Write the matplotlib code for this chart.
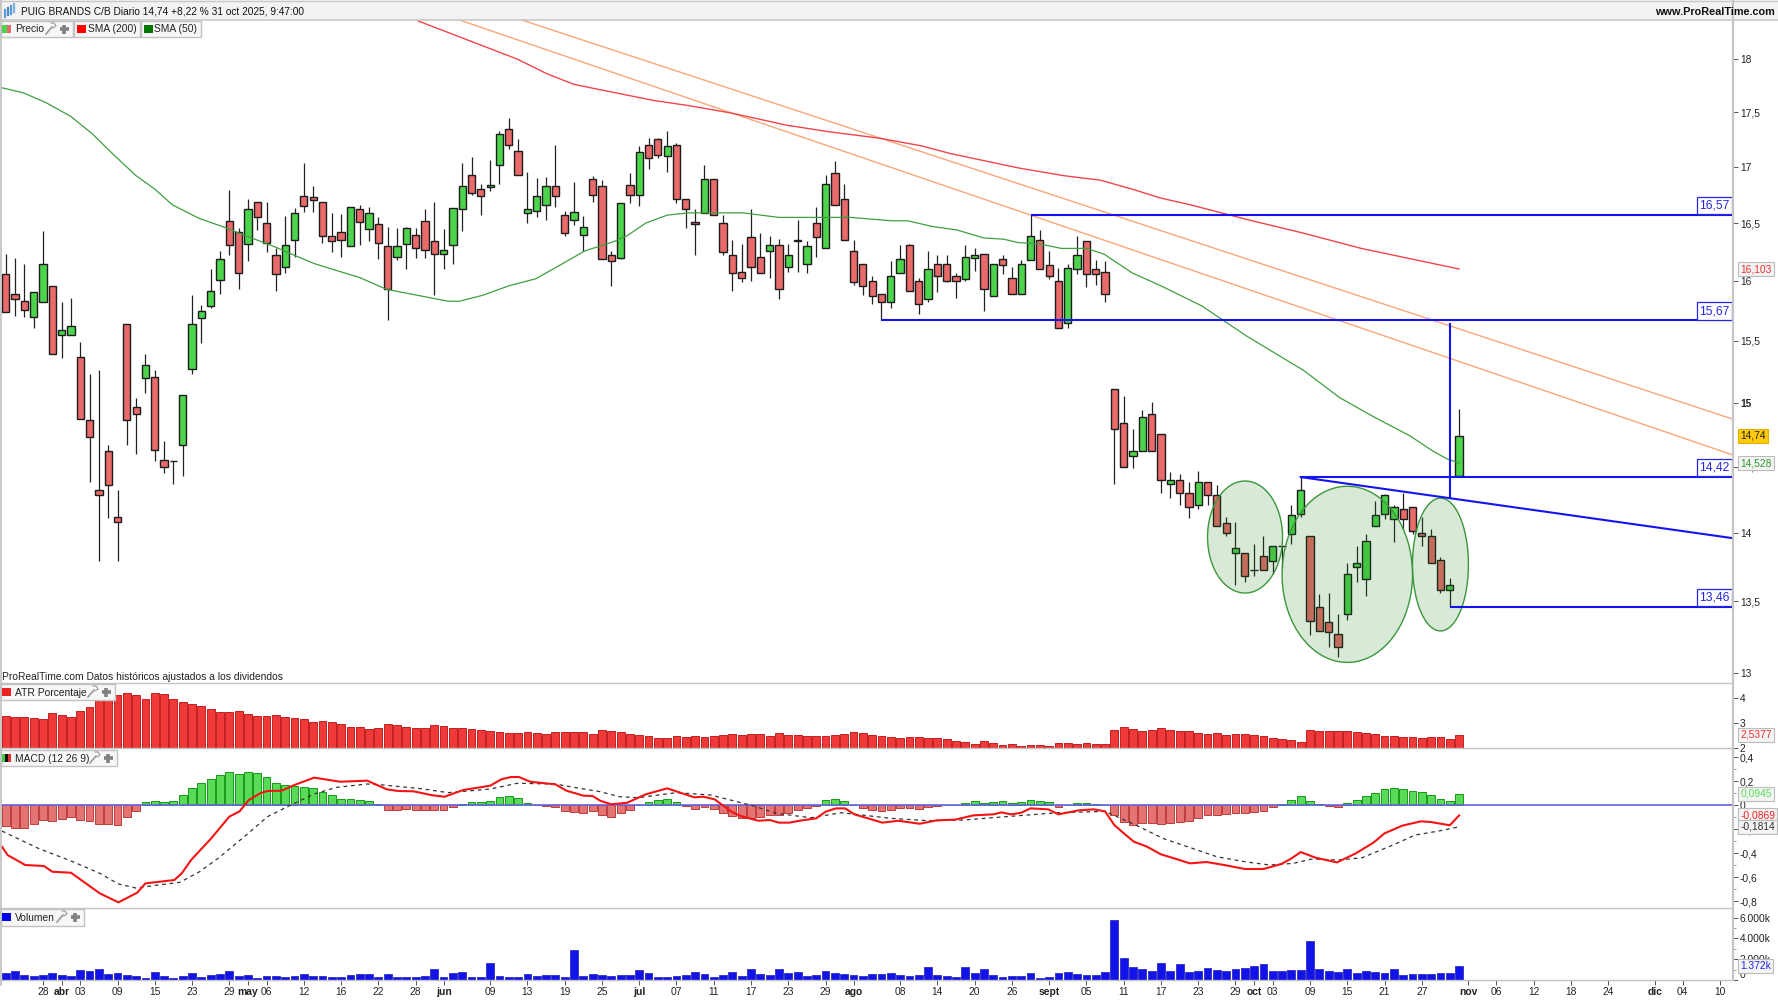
import numpy as np
import matplotlib
matplotlib.use("Agg")
import matplotlib.pyplot as plt
from matplotlib.patches import Rectangle

plt.rcParams['font.family'] = ['Liberation Sans', 'DejaVu Sans']

# daily candles, bar number = position in the list
opens = [16.06,15.89,15.83,15.70,15.82,15.96,15.55,15.55,15.37,14.86,
14.32,14.62,14.12,15.64,14.97,15.20,15.21,14.55,14.54,14.67,
15.27,15.69,15.79,16.01,16.52,16.42,16.32,16.69,16.50,16.22,
16.12,16.35,16.74,16.73,16.69,16.39,16.42,16.30,16.62,16.45,
16.49,16.30,16.21,16.32,16.40,16.52,16.34,16.23,16.31,16.62,
16.93,16.80,16.82,17.02,17.34,17.14,16.59,16.61,16.66,16.83,
16.57,16.53,16.40,16.89,16.83,16.22,16.20,16.84,16.75,17.20,
17.25,17.10,17.20,16.71,16.51,16.59,16.89,16.50,16.22,16.08,
16.38,16.21,16.26,16.31,16.12,16.35,16.15,16.50,16.28,16.94,
16.71,16.26,16.15,16.00,15.89,15.82,16.07,16.31,16.00,15.85,
16.15,16.15,16.04,16.02,16.20,16.23,15.87,16.19,16.03,15.89,
16.18,16.35,16.14,16.00,15.65,16.10,16.34,16.10,16.08,15.11,
14.84,14.58,14.62,14.91,14.75,14.37,14.40,14.30,14.21,14.38,
14.28,14.07,13.85,13.85,13.73,13.83,13.79,13.90,13.99,14.14,
13.98,13.46,13.35,13.27,13.41,13.75,13.66,14.05,14.14,14.10,
14.18,14.19,14.00,13.98,13.80,13.58,14.43]
highs = [16.23,16.20,16.15,15.91,16.43,15.96,15.82,15.86,15.49,15.23,
15.26,14.67,14.32,15.64,15.04,15.39,15.26,14.70,14.54,15.06,
15.88,15.80,16.10,16.26,16.79,16.46,16.71,16.69,16.69,16.28,
16.56,16.63,17.03,16.83,16.69,16.59,16.58,16.64,16.66,16.64,
16.55,16.47,16.46,16.47,16.46,16.62,16.69,16.45,16.63,17.03,
17.09,16.85,17.06,17.33,17.45,17.25,16.95,16.90,16.91,17.20,
16.61,16.86,16.56,16.92,16.88,16.26,16.68,16.94,17.19,17.26,
17.26,17.33,17.22,16.71,16.62,17.02,16.89,16.57,16.35,16.32,
16.62,16.41,16.39,16.36,16.32,16.53,16.34,16.64,16.93,17.05,
16.85,16.35,16.15,16.04,15.89,16.17,16.31,16.32,16.03,16.26,
16.22,16.22,16.07,16.31,16.28,16.23,16.15,16.22,16.12,16.18,
16.57,16.44,16.26,16.11,16.15,16.39,16.34,16.18,16.17,15.11,
15.05,14.79,14.94,15.01,14.75,14.46,14.44,14.38,14.47,14.38,
14.36,14.12,14.08,13.85,13.92,13.98,13.90,13.90,14.21,14.42,
13.98,13.55,13.56,13.41,13.78,13.90,13.99,14.24,14.29,14.21,
14.30,14.19,14.12,14.03,13.82,13.67,14.95]
lows = [15.74,15.71,15.70,15.61,15.82,15.39,15.36,15.55,14.87,14.38,
13.79,14.11,13.79,14.67,14.60,15.08,14.54,14.45,14.37,14.43,
15.23,15.48,15.77,15.89,16.22,15.93,16.17,16.44,16.25,15.92,
16.07,16.21,16.60,16.60,16.33,16.25,16.21,16.30,16.31,16.34,
16.19,15.67,16.18,16.10,16.20,16.20,15.88,16.10,16.15,16.43,
16.75,16.57,16.78,16.85,17.16,16.93,16.50,16.55,16.53,16.64,
16.39,16.48,16.26,16.69,16.19,15.96,16.19,16.68,16.65,16.98,
17.08,16.95,16.68,16.46,16.22,16.59,16.57,16.22,15.92,15.99,
16.00,16.07,16.03,15.85,16.08,16.08,16.07,16.21,16.28,16.66,
16.35,15.97,15.88,15.81,15.67,15.77,16.07,15.92,15.72,15.82,
15.91,15.99,15.86,16.00,16.09,15.75,15.87,16.06,15.89,15.89,
16.18,16.10,16.02,15.61,15.61,16.06,15.95,15.97,15.82,14.37,
14.50,14.49,14.62,14.62,14.30,14.26,14.21,14.11,14.18,14.21,
14.05,13.98,13.62,13.64,13.68,13.73,13.70,13.74,13.92,14.12,
13.26,13.29,13.18,13.11,13.37,13.64,13.54,14.05,14.10,13.93,
14.03,13.99,13.90,13.78,13.56,13.46,14.42]
closes = [15.74,15.85,15.76,15.91,16.15,15.39,15.59,15.62,14.87,14.73,
14.28,14.36,14.08,14.86,14.91,15.30,14.63,14.50,14.54,15.06,
15.64,15.75,15.92,16.19,16.31,16.07,16.62,16.55,16.33,16.06,
16.31,16.59,16.65,16.70,16.39,16.34,16.35,16.64,16.51,16.59,
16.33,15.93,16.30,16.46,16.28,16.27,16.23,16.27,16.63,16.83,
16.77,16.74,16.84,17.30,17.20,16.93,16.62,16.74,16.83,16.74,
16.41,16.60,16.47,16.75,16.19,16.17,16.68,16.75,17.13,17.08,
17.11,17.19,16.71,16.62,16.49,16.89,16.57,16.25,16.07,16.03,
16.12,16.07,16.31,15.93,16.22,16.34,16.30,16.38,16.85,16.66,
16.35,15.99,15.96,15.87,15.82,16.04,16.19,15.92,15.81,16.10,
16.04,16.00,16.00,16.21,16.22,15.93,16.15,16.14,15.89,16.15,
16.39,16.10,16.04,15.61,16.11,16.22,16.06,16.06,15.89,14.79,
14.50,14.62,14.89,14.62,14.40,14.40,14.30,14.19,14.38,14.28,
14.05,14.00,13.89,13.68,13.73,13.73,13.90,13.90,14.13,14.32,
13.36,13.29,13.28,13.18,13.70,13.78,13.94,14.13,14.28,14.19,
14.10,14.01,13.98,13.78,13.58,13.62,14.74]

# moving averages, read at some bars only
sma50_x = [-0.5,1.9,4.3,7,9.3,11.7,14,16,17.9,20.8,23.6,26.1,29,31,33.1,35.1,38,40.9,44.2,47.5,48.7,51.2,54,56.9,59.8,62.2,
63.8,65.3,66.7,68.7,71,73.3,76.5,79.1,83,86.8,90.6,95.2,96.8,99.5,102.1,105,107.1,108.7,110.9,113.3,116,117.9,120.9,124,
128.4,133.2,139.3,143.2,146.8,150.7,153.2,154.7,156]
sma50_y = [17.73,17.68,17.59,17.46,17.30,17.10,16.92,16.80,16.66,16.54,16.46,16.38,16.29,16.22,16.15,16.10,16.03,15.93,15.88,15.83,15.83,15.88,15.96,16.02,16.15,16.26,
16.30,16.34,16.39,16.50,16.57,16.59,16.59,16.59,16.55,16.55,16.55,16.52,16.52,16.47,16.44,16.37,16.36,16.33,16.32,16.28,16.28,16.23,16.07,15.96,
15.79,15.54,15.26,15.04,14.89,14.74,14.62,14.56,14.528]
sma200_x = [44.2,54.9,58.1,61,63.8,69.5,73.4,78,83.8,88.3,93.8,98.3,101.4,108.7,113.6,117.5,120.9,124,127.2,133.3,139.4,145.5,156]
sma200_y = [18.37,18.00,17.86,17.76,17.71,17.61,17.56,17.49,17.38,17.32,17.26,17.19,17.12,16.99,16.92,16.88,16.80,16.72,16.66,16.53,16.41,16.28,16.103]

atr = [3.29,3.25,3.25,3.19,3.15,3.40,3.33,3.25,3.48,3.63,
3.93,4.00,4.11,4.21,4.11,3.96,4.21,4.15,3.96,3.84,
3.76,3.67,3.55,3.44,3.44,3.48,3.36,3.29,3.29,3.32,
3.25,3.19,3.15,3.04,3.08,3.04,2.96,2.85,2.85,2.77,
2.81,2.96,2.92,2.85,2.81,2.81,2.92,2.88,2.81,2.81,
2.77,2.73,2.67,2.63,2.60,2.60,2.64,2.60,2.56,2.64,
2.64,2.64,2.64,2.56,2.73,2.67,2.63,2.56,2.52,2.48,
2.40,2.40,2.48,2.44,2.48,2.44,2.48,2.52,2.56,2.52,
2.56,2.56,2.48,2.60,2.52,2.52,2.48,2.48,2.48,2.52,
2.56,2.63,2.60,2.52,2.48,2.44,2.40,2.44,2.44,2.40,
2.40,2.36,2.29,2.25,2.19,2.29,2.21,2.15,2.19,2.11,
2.12,2.15,2.11,2.21,2.21,2.17,2.21,2.17,2.17,2.73,
2.84,2.77,2.69,2.73,2.81,2.73,2.69,2.67,2.60,2.56,
2.60,2.52,2.56,2.56,2.52,2.48,2.40,2.36,2.33,2.25,
2.71,2.67,2.67,2.67,2.67,2.63,2.60,2.56,2.48,2.48,
2.44,2.44,2.40,2.44,2.44,2.36,2.5377]

macd_hist = [-.172,-.189,-.189,-.161,-.125,-.133,-.117,-.097,-.125,-.133,
-.161,-.156,-.164,-.103,-.047,.022,.031,.022,.031,.081,
.139,.186,.217,.247,.272,.256,.272,.264,.231,.186,
.164,.156,.147,.139,.108,.081,.047,.047,.039,.031,
.008,-.042,-.042,-.033,-.042,-.042,-.042,-.042,-.019,.006,
.022,.022,.031,.064,.072,.056,.017,0,-.011,-.019,
-.047,-.056,-.064,-.047,-.081,-.097,-.064,-.039,0,.022,
.039,.047,.022,-.011,-.033,-.019,-.031,-.064,-.089,-.106,
-.106,-.097,-.081,-.081,-.064,-.042,-.025,-.011,.039,.047,
.031,0,-.025,-.042,-.05,-.042,-.025,-.025,-.033,-.017,
-.008,0,0,.017,.031,.017,.022,.031,.017,.022,
.039,.031,.022,-.017,0,.017,.017,.008,0,-.081,
-.139,-.164,-.147,-.147,-.156,-.147,-.139,-.131,-.106,-.081,
-.081,-.072,-.064,-.064,-.056,-.047,-.019,.008,.039,.072,
.031,.008,-.008,-.019,.017,.039,.072,.1,.133,.139,
.133,.117,.108,.081,.047,.031,.0945]

macd_x = [-0.4,0.2,2.1,4.1,5,7,9,10.1,12.1,14.1,15,18.1,18.9,19.9,22,24,25.1,26.1,27.3,28.1,29.6,31,33.1,35.9,38.8,40.9,42.1,43.8,45.8,47.1,
49.1,52,53.2,54.2,55.1,56.3,59,60.2,62,63,63.8,65,66.7,68.7,71,73.9,74.9,76.1,77.9,78.9,80.8,82,83,84.1,85.2,87,88,89.1,90.1,91.1,
92.9,94.1,95.8,98.1,99.9,101.9,103.9,106,106.9,107.9,109,110,111.9,113,115.2,116.8,118,119,120.1,121.1,122.5,124,125.4,127.1,128.9,
130.8,133,135,136.9,137.9,139,140.6,142.9,144.9,146.8,148,149.9,151.9,153,155,156]
macd_y = [-.347,-.417,-.5,-.508,-.556,-.564,-.675,-.736,-.811,-.731,-.653,-.625,-.569,-.458,-.283,-.097,-.053,.042,.097,.117,.119,.167,.228,.194,.203,.131,.117,.114,.081,.069,
.125,.161,.214,.233,.233,.194,.172,.119,.078,.075,.036,.006,.019,.089,.139,.064,.069,.047,-.056,-.092,-.131,-.125,-.147,-.147,-.131,-.111,-.056,-.028,-.028,-.078,
-.119,-.147,-.131,-.156,-.128,-.122,-.086,-.078,-.061,-.078,-.064,-.028,-.036,-.078,-.044,-.036,-.053,-.167,-.242,-.306,-.347,-.411,-.444,-.486,-.475,
-.5,-.533,-.533,-.492,-.45,-.392,-.439,-.478,-.403,-.314,-.236,-.172,-.136,-.142,-.169,-.0869]
signal_x = [-0.4,3.5,7.2,10.1,12.1,14,15.8,18.7,20.8,22.8,25.7,28.1,30.6,33.1,35.5,38.8,40.5,44.6,47.5,52,54.9,59,61,63.8,65.9,67.9,72,75.7,80.2,82.7,86.4,89.7,
95,99.1,102.8,108.2,113,118,121.3,124.2,128.2,130,133.2,135.7,138.2,140.2,143.1,145.6,148.9,151.3,153.8,156]
signal_y = [-.217,-.361,-.472,-.569,-.658,-.692,-.672,-.644,-.556,-.444,-.258,-.097,0,.092,.147,.175,.167,.136,.103,.133,.181,.175,.147,.111,.069,.061,.103,.083,-.006,-.069,-.106,-.064,
-.111,-.131,-.125,-.092,-.064,-.053,-.167,-.278,-.383,-.431,-.475,-.5,-.486,-.45,-.458,-.439,-.333,-.25,-.217,-.1814]

volume = [677,839,484,387,484,677,484,387,935,839,
1032,581,677,484,387,194,742,387,194,387,
677,290,484,581,839,387,484,194,387,387,
290,387,581,387,387,290,290,484,581,581,
290,581,290,290,290,387,1097,290,677,774,
290,290,1645,387,290,290,581,387,484,484,
290,2903,387,581,484,387,484,484,935,677,
290,290,387,484,742,581,290,484,742,387,
1032,581,484,1032,677,742,387,484,839,677,
581,484,387,581,581,677,484,387,484,1290,
484,387,290,1290,677,1097,484,290,387,387,
677,194,290,677,742,581,484,484,742,5774,
2097,1290,1032,839,1645,839,1548,742,839,1194,
935,839,1032,1194,1387,1548,839,839,935,935,
3710,1097,839,742,1097,677,839,742,677,1032,
484,581,581,581,677,677,1372]

# drawn levels and trend lines (bar number, price)
levels = [16.57, 15.67, 14.42, 13.46]
level_start = [110, 94, 139, 155]
level_text = ["16,57", "15,67", "14,42", "13,46"]
orange1_x, orange1_y = [55.4, 185.4], [18.377, 14.87]
orange2_x, orange2_y = [48.7, 185.4], [18.377, 14.59]
trend_x, trend_y = [139, 185.4], [14.42, 13.96]
projection_x, projection_y = [155, 155], [15.64, 14.26]
# ovals: first bar, last bar, low, high
oval_x0 = [129.0, 137.0, 151.0]
oval_x1 = [137.05, 151.0, 157.0]
oval_low = [13.56, 13.07, 13.29]
oval_high = [14.39, 14.35, 14.26]

# date axis
date_pos = [4,6,8,12,16,20,24,26,28,32,36,40,44,47,52,56,60,64,68,72,76,80,84,88,91,96,100,104,108,112,116,120,124,128,132,134,136,140,144,148,152,157,160,164,168,172,177,180,184]
date_lab = ["28","abr","03","09","15","23","29","may","06","12","16","22","28","jun","09","13","19","25","jul","07","11","17","23","29","ago","08","14","20","26","sept","05","11","17","23","29","oct","03","09","15","21","27","nov","06","12","18","24","dic","04","10"]
months = ["abr","may","jun","jul","ago","sept","oct","nov","dic"]

price_ticks = [13,13.5,14,14.5,15,15.5,16,16.5,17,17.5,18]
price_lab = ["13","13,5","14","14,5","15","15,5","16","16,5","17","17,5","18"]

W, H = 1778, 1000
fig = plt.figure(figsize=(W/100, H/100), dpi=100)
x = np.arange(len(closes))
o, h, l, c = map(np.array, (opens, highs, lows, closes))
GREY = '#c4c4c4'
TXT = '#222222'
FS = 7.4


def pane(top, bottom):
    ax = fig.add_axes([1/W, 1-bottom/H, 1732/W, (bottom-top)/H])
    ax.set_xlim(-0.505, 185.4)
    ax.tick_params(axis='x', length=0, labelbottom=False)
    ax.yaxis.tick_right()
    ax.tick_params(axis='y', which='major', length=3.5, width=0.7, color='#555555', pad=1.5, labelsize=FS, labelcolor=TXT)
    ax.tick_params(axis='y', which='minor', length=2, width=0.5, color='#777777')
    for s in ['top', 'left', 'bottom']:
        ax.spines[s].set_visible(False)
    ax.spines['right'].set_color(GREY)
    ax.spines['right'].set_linewidth(1.5)
    return ax


def tag(ax, val, txt, col, fc='#f4f4f4', ec='#bbbbbb'):
    ax.text(1.0042, val, txt, transform=ax.get_yaxis_transform(), color=col, fontsize=FS, va='center', ha='left',
            zorder=20, clip_on=False, bbox=dict(boxstyle='square,pad=0.2', fc=fc, ec=ec, lw=0.8))


ax = pane(20, 682.7)
ax.set_yscale('log')
ax.set_ylim(12.93, 18.377)
ax.set_yticks(price_ticks, price_lab)
ax.set_yticks([], minor=True)
for t in ax.get_yticklabels():
    if t.get_text() == "15":
        t.set_fontweight('bold')

ax.plot(orange1_x, orange1_y, color='#f8a67a', lw=1.0, zorder=2)
ax.plot(orange2_x, orange2_y, color='#f8a67a', lw=1.0, zorder=2)
ax.plot(sma200_x, sma200_y, color='#f0464c', lw=1.0, zorder=2)

ax.vlines(x, l, h, color='#222222', lw=0.9, zorder=3)
up = c >= o
body_lo = np.minimum(o, c)
body_hi = np.maximum(o, c)
ax.bar(x[up], (body_hi-body_lo)[up], bottom=body_lo[up], width=0.78, color='#4cd44c', edgecolor='#1c1c1c', lw=1.0, zorder=4)
ax.bar(x[~up], (body_hi-body_lo)[~up], bottom=body_lo[~up], width=0.78, color='#e86a6a', edgecolor='#1c1c1c', lw=1.0, zorder=4)

ax.plot(sma50_x, sma50_y, color='#3f9f3f', lw=0.9, zorder=5)

t = np.linspace(0, 2*np.pi, 200)
for x0, x1, lo, hi in zip(oval_x0, oval_x1, oval_low, oval_high):
    cx, rx = (x0+x1)/2, (x1-x0)/2
    cy, ry = (np.log(lo)+np.log(hi))/2, (np.log(hi)-np.log(lo))/2
    ax.fill(cx+rx*np.cos(t), np.exp(cy+ry*np.sin(t)), facecolor=(0.1, 0.5, 0.1, 0.17), edgecolor='#3a973a', lw=1.0, zorder=6)

for lev, st, txt in zip(levels, level_start, level_text):
    ax.plot([st, 185.4], [lev, lev], color='#1414f0', lw=1.5, zorder=7, solid_capstyle='butt')
    ax.annotate(txt, xy=(1, lev), xycoords=ax.get_yaxis_transform(), xytext=(-2.4, 2.4), textcoords='offset points',
                ha='right', va='bottom', color='#2626e6', fontsize=8.7, zorder=8,
                bbox=dict(boxstyle='square,pad=0.22', fc='white', ec='#2626e6', lw=0.9))
ax.plot(trend_x, trend_y, color='#1414f0', lw=1.5, zorder=7)
ax.plot(projection_x, projection_y, color='#1414f0', lw=1.5, zorder=7)

tag(ax, 16.103, "16,103", '#f03030')
tag(ax, 14.74, "14,74", '#222222', fc='#ffc80a', ec='#e0b000')
tag(ax, 14.528, "14,528", '#2c9a2c')

# ATR pane
ax2 = pane(682.7, 748.3)
ax2.bar(x, atr, width=0.84, color='#f03a3a', edgecolor='#c42020', lw=0.7)
ax2.set_ylim(2, 4.61)
ax2.set_yticks([2, 3, 4], ["2", "3", "4"])
tag(ax2, 2.5377, "2,5377", '#f03030')

# MACD pane
ax3 = pane(748.3, 908)
hist = np.array(macd_hist)
ax3.bar(x[hist >= 0], hist[hist >= 0], width=0.84, color='#58dc58', edgecolor='#169a16', lw=0.7)
ax3.bar(x[hist < 0], hist[hist < 0], width=0.84, color='#e47474', edgecolor='#bf3c3c', lw=0.7)
ax3.axhline(0, color='#6464e0', lw=1.2, zorder=3)
ax3.plot(signal_x, signal_y, color='#333333', lw=0.9, dashes=(3, 3), zorder=4)
ax3.plot(macd_x, macd_y, color='#f51414', lw=1.5, zorder=5)
ax3.set_ylim(-0.858, 0.4725)
ax3.set_yticks([-0.8, -0.6, -0.4, -0.2, 0, 0.2, 0.4], ["-0,8", "-0,6", "-0,4", "-0,2", "0", "0,2", "0,4"])
ax3.set_yticks([-0.7, -0.5, -0.3, -0.1, 0.1, 0.3], minor=True)
tag(ax3, 0.0945, "0,0945", '#55dd55')
tag(ax3, -0.0869, "-0,0869", '#f02020')
tag(ax3, -0.1814, "-0,1814", '#333333')

# volume pane, dates go under it
ax4 = pane(908, 980)
ax4.bar(x, volume, width=0.84, color='#1212ea', edgecolor='#3a3ac8', lw=0.7)
ax4.set_ylim(0, 6935)
ax4.set_yticks([0, 2000, 4000, 6000], ["0", "2.000k", "4.000k", "6.000k"])
ax4.get_yticklabels()[0].set_va('bottom')
ax4.set_yticks([1000, 3000, 5000], minor=True)
ax4.spines['bottom'].set_visible(True)
ax4.spines['bottom'].set_color(GREY)
ax4.spines['bottom'].set_linewidth(1.0)
ax4.set_xticks(date_pos, date_lab)
ax4.tick_params(axis='x', length=3.5, width=0.7, color='#555555', labelbottom=True, pad=1.5, labelsize=FS, labelcolor=TXT)
for t_ in ax4.get_xticklabels():
    if t_.get_text() in months:
        t_.set_fontweight('bold')
tag(ax4, 1372, "1.372k", '#2222ee')

# window chrome: drawn in pixels over the whole figure
ov = fig.add_axes([0, 0, 1, 1], zorder=30)
ov.set_xlim(0, W)
ov.set_ylim(H, 0)
ov.axis('off')
ov.patch.set_alpha(0)


def rect(x0, y0, x1, y1, fc, ec='none', lw=0):
    ov.add_patch(Rectangle((x0, y0), x1-x0, y1-y0, facecolor=fc, edgecolor=ec, linewidth=lw))


def icons(xw):
    # wrench and plus of a legend tab
    yc = tab_y + 8
    ov.plot([xw, xw+6], [yc+5, yc-2], color='#9a9a9a', lw=1.2)
    ov.plot([xw+5, xw+8, xw+10, xw+7], [yc-6, yc-6, yc-3, yc-1], color='#9a9a9a', lw=0.8)
    ov.plot([xw+18, xw+18], [yc-4.5, yc+4.5], color='#808080', lw=2.6, solid_capstyle='butt')
    ov.plot([xw+13.5, xw+22.5], [yc, yc], color='#808080', lw=2.6, solid_capstyle='butt')


def tab(x0, x1, y0, y1, label):
    rect(x0, y0, x1, y1, '#f7f7f7', ec='#c2c2c2', lw=1)
    ov.text(x0+14, (y0+y1)/2+0.5, label, fontsize=FS, color=TXT, va='center', ha='left')


rect(0, 0, W, 20, '#f3f3f3')
ov.plot([0, W], [0.5, 0.5], color='#c8c8c8', lw=1)
ov.plot([0, W], [19.5, 19.5], color='#c8c8c8', lw=1.2)
ov.plot([0.5, 0.5], [0, 985], color='#c0c0c0', lw=1.2)
for yy in (682.7, 748.3, 908):
    ov.plot([0, 1733], [yy, yy], color=GREY, lw=1.0)
ov.plot([1733, 1733], [0, 980], color=GREY, lw=1.5)

# small logo in the title bar
for lx, y0, y1, col in [(5, 10, 17, '#5a9ad8'), (8, 8, 15, '#4a8ac8'), (11, 6, 14, '#5a9ad8'), (14, 4, 12, '#80b0e0')]:
    ov.plot([lx, lx], [y0, y1], color=col, lw=1.6)

ov.text(21, 12, "PUIG BRANDS C/B Diario 14,74 +8,22 % 31 oct 2025, 9:47:00", fontsize=7.25, color='#111111', va='center', ha='left')
ov.text(1775, 12, "www.ProRealTime.com", fontsize=7.8, fontweight='bold', color='#111111', va='center', ha='right')
ov.text(2, 677, "ProRealTime.com Datos históricos ajustados a los dividendos", fontsize=FS, color=TXT, va='center', ha='left')

tab_y = 21
tab(1, 73, 21, 37, "Precio")
rect(2, 25, 6.5, 33, '#4cd44c')
rect(6.5, 25, 11, 33, '#e86a6a')
icons(46)
tab(73.5, 140, 21, 37, "SMA (200)")
rect(77, 25, 86, 33, '#ff0000')
tab(140.5, 201, 21, 37, "SMA (50)")
rect(143.5, 25, 153, 33, '#007800')

tab_y = 684
tab(1, 115, 684, 700, "ATR Porcentaje")
rect(2, 688, 11, 696, '#ee2222')
icons(88)
tab_y = 750
tab(1, 117, 750, 766, "MACD (12 26 9)")
rect(2, 754, 5, 762, '#44cc44')
rect(5, 754, 8, 762, '#111111')
rect(8, 754, 11, 762, '#e03030')
icons(90)
tab_y = 909
tab(1, 84, 909, 926, "Volumen")
rect(2, 913, 11, 921, '#0000ee')
icons(57)

fig.savefig("out.png", dpi=100, facecolor='white')
